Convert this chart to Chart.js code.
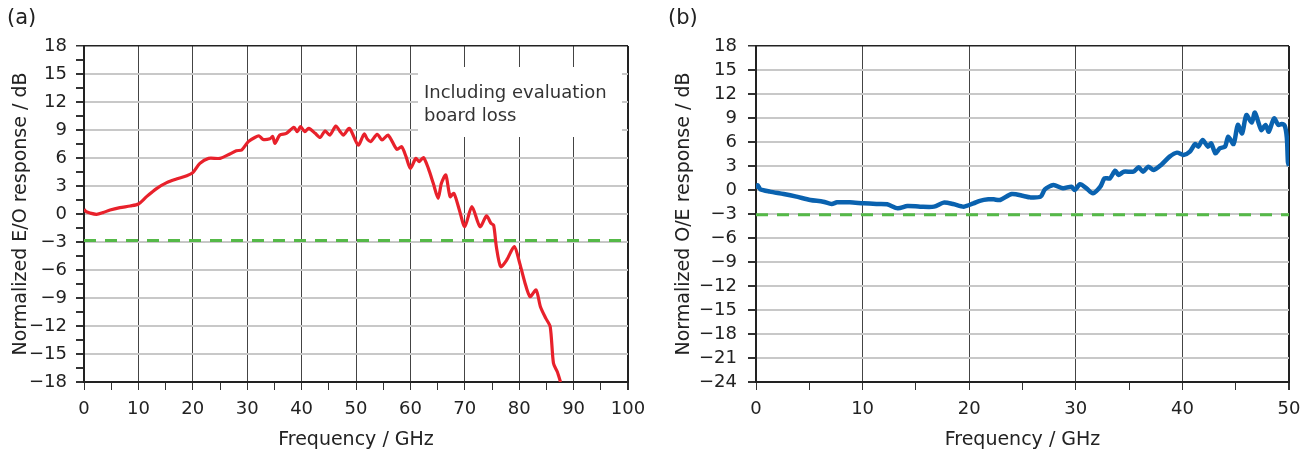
<!DOCTYPE html>
<html>
<head>
<meta charset="utf-8">
<script src="https://cdn.jsdelivr.net/npm/chart.js@4.4.0/dist/chart.umd.min.js"></script>
<style>
  body { margin: 0; background: #fff; width: 1311px; height: 452px; overflow: hidden; position: relative; font-family: 'DejaVu Sans', sans-serif; }
  .panel { position: absolute; top: 0; }
  .tag { position: absolute; top: 7px; font-size: 21px; color: #222; line-height: 1; }
</style>
</head>
<body>
<canvas id="chartA" class="panel" width="655" height="452" style="left:0"></canvas>
<canvas id="chartB" class="panel" width="656" height="452" style="left:655px"></canvas>
<div class="tag" style="left:7px">(a)</div>
<div class="tag" style="left:668px">(b)</div>
<script>
// (a) E/O response
const freqA = [0, 0.4, 1.1, 2.3, 3.5, 4.8, 6.6, 8.5, 10, 11.5, 13.4, 15.2, 17, 18.9, 20, 21.3, 22.9, 25, 26.8, 28, 29,
  30.2, 31.4, 32.2, 32.9, 34.2, 34.7, 35.1, 36, 37.2, 38.6, 39.2, 39.8, 40.6, 41.3, 42.5, 43.4, 44.3, 45.2, 46.3, 47,
  47.7, 48.8, 50.4, 51.5, 52.1, 52.7, 53.9, 54.8, 55.9, 57.5, 58.4, 59.2, 60, 61, 61.6, 62.4, 63.3, 64.2, 65.1, 65.7,
  66.5, 67.3, 68, 69, 70, 71.3, 72.8, 74, 74.8, 75.3, 75.8, 76.6, 77.7, 79.1, 80.1, 81, 82, 83.1, 83.9, 84.9, 85.7,
  86.3, 87, 87.6];
const respA = [0.5, 0.25, 0.1, -0.03, 0.15, 0.43, 0.68, 0.86, 1.07, 1.86, 2.75, 3.36, 3.75, 4.1, 4.43, 5.43, 5.96, 5.96, 6.43, 6.78, 6.86,
  7.75, 8.2, 8.36, 8.0, 8.07, 8.3, 7.57, 8.46, 8.64, 9.29, 8.82, 9.36, 8.82, 9.18, 8.64, 8.2, 8.9, 8.46, 9.43, 8.9,
  8.46, 9.18, 7.39, 8.57, 8.0, 7.75, 8.54, 7.93, 8.46, 6.93, 7.21, 6.14, 4.89, 5.96, 5.6, 6.04, 4.89, 3.29, 1.68, 3.29,
  4.18, 1.86, 2.21, 0.43, -1.36, 0.79, -1.36, -0.2, -1.0, -1.2, -3.5, -5.64, -4.93, -3.5, -5.29, -7.25, -8.86, -8.14, -9.93, -11.18, -12.07,
  -16, -16.9, -18];

// (b) O/E response
const freqB = [0, 0.15, 0.4, 1.3, 2.6, 3.8, 5.1, 6.3, 7.1, 7.6, 8.8, 10.1, 11.3, 12.3, 13.3, 14.2, 15.4, 16.7, 17.6, 18.5,
  19.5, 20.4, 21, 21.8, 22.3, 22.9, 24, 25.1, 25.7, 26.7, 27.1, 27.9, 28.8, 29.6, 29.9, 30.4, 31, 31.6, 32.3, 32.7,
  33.2, 33.7, 34, 34.5, 35.4, 35.9, 36.3, 36.8, 37.3, 38, 38.8, 39.5, 40.1, 40.7, 41.2, 41.5, 41.9, 42.4, 42.7, 43.1,
  43.5, 44, 44.3, 44.8, 45.2, 45.6, 46, 46.5, 46.8, 47.4, 47.8, 48.1, 48.6, 49, 49.3, 49.6, 49.8, 49.9, 50];
const respB = [0.2, 0.6, 0.1, -0.2, -0.5, -0.83, -1.25, -1.46, -1.75, -1.54, -1.54, -1.67, -1.75, -1.79, -2.29, -2.0, -2.08, -2.08, -1.58, -1.75,
  -2.08, -1.67, -1.35, -1.17, -1.17, -1.25, -0.5, -0.75, -0.92, -0.83, 0.08, 0.63, 0.21, 0.42, 0.0, 0.71, 0.21, -0.42, 0.42, 1.46,
  1.46, 2.42, 1.88, 2.29, 2.29, 2.83, 2.29, 2.92, 2.5, 3.13, 4.17, 4.67, 4.38, 4.79, 5.75, 5.42, 6.25, 5.42, 5.83, 4.58,
  5.21, 5.42, 6.67, 5.75, 8.13, 7.08, 9.38, 8.42, 9.67, 7.5, 8.13, 7.29, 8.96, 8.13, 8.25, 8.04, 6.5, 3.5, 3.0];

const limitA = -2.85;
const limitB = -3.1;
const noteLines = ['Including evaluation', 'board loss'];

const FONT = "'DejaVu Sans', sans-serif";

function isMult(v, m) {
  return Math.abs(v / m - Math.round(v / m)) < 1e-6;
}

function fmt(v) {
  return v < 0 ? '\u2212' + Math.abs(v) : String(v);
}

const notePlugin = {
  id: 'note',
  beforeDatasetsDraw(chart) {
    const { ctx, chartArea } = chart;
    const left = chartArea.left + 334, top = chartArea.top + 21;
    ctx.save();
    ctx.fillStyle = '#fff';
    ctx.fillRect(left, top, 204, 70);
    ctx.fillStyle = '#333';
    ctx.font = '18px ' + FONT;
    ctx.textBaseline = 'alphabetic';
    ctx.fillText(noteLines[0], left + 6, top + 31);
    ctx.fillText(noteLines[1], left + 6, top + 54);
    ctx.restore();
  }
};

function buildChart(id, cfg) {
  const points = cfg.freq.map((f, i) => ({ x: f, y: cfg.resp[i] }));
  return new Chart(document.getElementById(id), {
    type: 'line',
    data: {
      datasets: [
        { data: points, borderColor: cfg.color, borderWidth: cfg.width, pointRadius: 0, tension: 0.25, order: 1 },
        { data: [{ x: cfg.xMin, y: cfg.limit }, { x: cfg.xMax, y: cfg.limit }], borderColor: '#55b948',
          borderWidth: 3, borderDash: [12, 9], pointRadius: 0, order: 2 }
      ]
    },
    options: {
      responsive: false,
      animation: false,
      devicePixelRatio: 1,
      layout: { padding: { top: 46, right: cfg.padRight, bottom: 0, left: 0 } },
      plugins: { legend: { display: false }, tooltip: { enabled: false } },
      scales: {
        x: {
          type: 'linear', min: cfg.xMin, max: cfg.xMax,
          afterFit: (s) => { s.height = 70; },
          ticks: {
            stepSize: 5, autoSkip: false, maxRotation: 0, padding: 9, color: '#222',
            font: { family: FONT, size: 18 },
            callback: (v) => isMult(v, 10) ? String(v) : ''
          },
          grid: {
            color: (c) => {
              const v = c.tick ? c.tick.value : 0;
              if (v === cfg.xMax) return '#222';
              return isMult(v, 10) ? '#444' : 'rgba(0,0,0,0)';
            },
            lineWidth: (c) => (c.tick && c.tick.value === cfg.xMax) ? 2 : 1,
            tickLength: 8, tickColor: '#333'
          },
          border: { color: '#222', width: 2 },
          title: { display: true, text: 'Frequency / GHz', color: '#222', font: { family: FONT, size: 19 }, padding: { top: 0, bottom: 0.5 } }
        },
        y: {
          min: cfg.yMin, max: cfg.yMax,
          afterFit: (s) => { s.width = cfg.yWidth; },
          ticks: {
            stepSize: cfg.yStep, autoSkip: false, padding: cfg.yPad, color: '#222',
            font: { family: FONT, size: 18 },
            callback: (v) => isMult(v, 3) ? fmt(Math.round(v)) : ''
          },
          grid: {
            color: (c) => {
              const v = c.tick ? c.tick.value : 0;
              if (v === cfg.yMax) return '#222';
              return isMult(v, 3) ? '#c8c8c8' : 'rgba(0,0,0,0)';
            },
            lineWidth: (c) => (c.tick && c.tick.value === cfg.yMax) ? 1.5 : 2,
            tickLength: 8, tickColor: '#333'
          },
          border: { color: '#222', width: 2 },
          title: { display: true, text: cfg.yTitle, color: '#222', font: { family: FONT, size: 19 }, padding: { top: cfg.yTitlePad, bottom: 0 } }
        }
      }
    },
    plugins: cfg.plugins || []
  });
}

buildChart('chartA', {
  freq: freqA, resp: respA, color: '#e8212b', width: 3.2, limit: limitA,
  xMin: 0, xMax: 100, yMin: -18, yMax: 18, yStep: 1.5,
  yWidth: 84, yPad: 9, yTitlePad: 10, padRight: 27,
  yTitle: 'Normalized E/O response / dB',
  plugins: [notePlugin]
});

buildChart('chartB', {
  freq: freqB, resp: respB, color: '#0a62af', width: 4.5, limit: limitB,
  xMin: 0, xMax: 50, yMin: -24, yMax: 18, yStep: 3,
  yWidth: 101, yPad: 11, yTitlePad: 18, padRight: 22,
  yTitle: 'Normalized O/E response / dB'
});
</script>
</body>
</html>
